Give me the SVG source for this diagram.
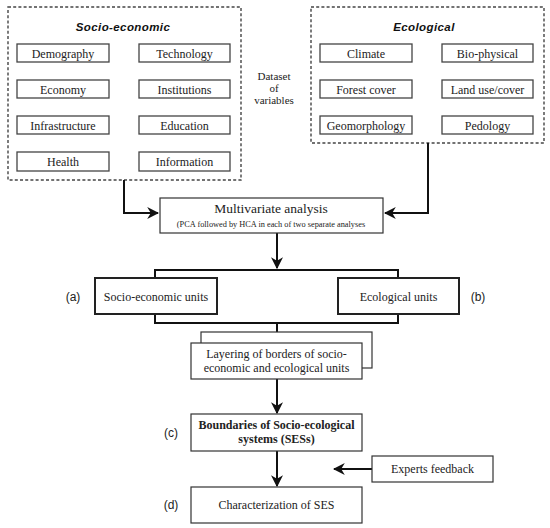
<svg xmlns="http://www.w3.org/2000/svg" width="550" height="528" viewBox="0 0 550 528">
<defs>
<style>
.t{font-family:"Liberation Serif","Times New Roman",serif;font-size:12px;fill:#222;text-anchor:middle}
.s{font-family:"Liberation Sans",Arial,sans-serif;font-size:12px;fill:#222;text-anchor:middle}
.h{font-family:"Liberation Sans",Arial,sans-serif;font-size:11.5px;font-weight:bold;font-style:italic;fill:#111;text-anchor:middle;letter-spacing:0.4px}
.dash{fill:#fff;stroke:#444;stroke-width:1.4;stroke-dasharray:3 2.2}
.ib{fill:#fff;stroke:#444;stroke-width:1.3}
.b1{fill:#fff;stroke:#333;stroke-width:1.2}
.b2{fill:#fff;stroke:#222;stroke-width:2}
.c{fill:none;stroke:#111;stroke-width:2}
.ca{fill:none;stroke:#111;stroke-width:2;marker-end:url(#ah)}
</style>
<marker id="ah" viewBox="0 0 10 10" refX="9" refY="5" markerWidth="6" markerHeight="6" orient="auto" markerUnits="strokeWidth">
<path d="M0,0 L10,5 L0,10 L3,5 z" fill="#111"/>
</marker>
</defs>
<rect width="550" height="528" fill="#fff"/>

<g id="socio-economic">
<rect class="dash" x="8" y="7" width="233" height="173"/>
<text class="h" x="123" y="31">Socio-economic</text>
<g id="demography"><rect class="ib" x="17" y="44" width="92" height="18"/><text class="t" x="63" y="57.5">Demography</text></g>
<g id="technology"><rect class="ib" x="139" y="44" width="91" height="18"/><text class="t" x="184.5" y="57.5">Technology</text></g>
<g id="economy"><rect class="ib" x="17" y="80" width="92" height="18"/><text class="t" x="63" y="93.5">Economy</text></g>
<g id="institutions"><rect class="ib" x="139" y="80" width="91" height="18"/><text class="t" x="184.5" y="93.5">Institutions</text></g>
<g id="infrastructure"><rect class="ib" x="17" y="116" width="92" height="18"/><text class="t" x="63" y="129.5">Infrastructure</text></g>
<g id="education"><rect class="ib" x="139" y="116" width="91" height="18"/><text class="t" x="184.5" y="129.5">Education</text></g>
<g id="health"><rect class="ib" x="17" y="152" width="92" height="19"/><text class="t" x="63" y="165.5">Health</text></g>
<g id="information"><rect class="ib" x="139" y="152" width="91" height="19"/><text class="t" x="184.5" y="165.5">Information</text></g>
</g>

<g id="ecological">
<rect class="dash" x="311" y="7" width="233" height="136"/>
<text class="h" x="424" y="31">Ecological</text>
<g id="climate"><rect class="ib" x="320" y="44" width="92" height="18"/><text class="t" x="366" y="57.5">Climate</text></g>
<g id="bio-physical"><rect class="ib" x="442" y="44" width="91" height="18"/><text class="t" x="487.5" y="57.5">Bio-physical</text></g>
<g id="forest-cover"><rect class="ib" x="320" y="80" width="92" height="18"/><text class="t" x="366" y="93.5">Forest cover</text></g>
<g id="land-use"><rect class="ib" x="442" y="80" width="91" height="18"/><text class="t" x="487.5" y="93.5">Land use/cover</text></g>
<g id="geomorphology"><rect class="ib" x="320" y="116" width="92" height="18"/><text class="t" x="366" y="129.5">Geomorphology</text></g>
<g id="pedology"><rect class="ib" x="442" y="116" width="91" height="18"/><text class="t" x="487.5" y="129.5">Pedology</text></g>
</g>

<g id="dataset-label">
<text class="t" x="274" y="80" style="font-size:11px">Dataset</text>
<text class="t" x="274" y="92" style="font-size:11px">of</text>
<text class="t" x="274" y="104" style="font-size:11px">variables</text>
</g>

<g id="connectors">
<path class="ca" d="M124,180 V213 H158"/>
<path class="ca" d="M428,143 V213 H385"/>
<path class="ca" d="M277,233 V268"/>
<path class="c" d="M155,278 V270 H398 V278"/>
<path class="c" d="M155,314 V323 H398 V314"/>
<path class="c" d="M277,323 V332"/>
<path class="ca" d="M277,379 V413"/>
<path class="ca" d="M277,451 V486"/>
<path class="ca" d="M372,469 H334"/>
</g>

<g id="multivariate">
<rect class="b1" x="160" y="198" width="223" height="35"/>
<text class="t" x="271" y="213" style="font-size:13.5px">Multivariate analysis</text>
<text class="t" x="271" y="227" style="font-size:8.3px">(PCA followed by HCA in each of two separate analyses</text>
</g>

<g id="socio-economic-units">
<rect class="b2" x="95" y="278" width="122" height="36"/>
<text class="t" x="156" y="301">Socio-economic units</text>
<text class="s" x="73" y="301">(a)</text>
</g>

<g id="ecological-units">
<rect class="b2" x="338" y="278" width="121" height="36"/>
<text class="t" x="398.5" y="301">Ecological units</text>
<text class="s" x="478" y="301">(b)</text>
</g>

<g id="layering">
<rect class="b1" x="201" y="332" width="171" height="36"/>
<rect class="b1" x="191" y="343" width="171" height="36"/>
<text class="t" x="276.5" y="358">Layering of borders of socio-</text>
<text class="t" x="276.5" y="372">economic and ecological units</text>
</g>

<g id="boundaries">
<rect class="b1" x="191" y="414" width="171" height="37"/>
<text class="t" x="276.5" y="429" style="font-weight:bold">Boundaries of Socio-ecological</text>
<text class="t" x="276.5" y="443" style="font-weight:bold">systems (SESs)</text>
<text class="s" x="171" y="437">(c)</text>
</g>

<g id="experts-feedback">
<rect class="b1" x="372" y="456" width="121" height="26"/>
<text class="t" x="432.5" y="473">Experts feedback</text>
</g>

<g id="characterization">
<rect class="b1" x="191" y="487" width="171" height="36"/>
<text class="t" x="276.5" y="509">Characterization of SES</text>
<text class="s" x="171" y="509">(d)</text>
</g>
</svg>
